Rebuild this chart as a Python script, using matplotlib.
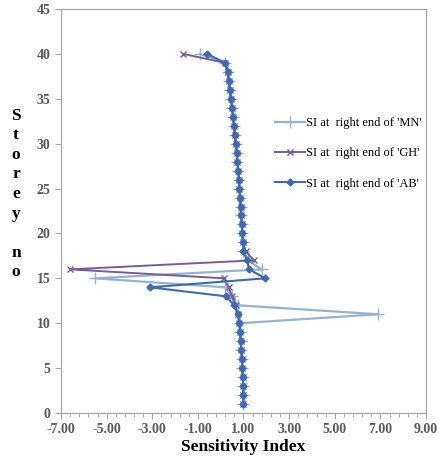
import matplotlib.pyplot as plt
import numpy as np

plt.rcParams['font.family'] = ['Liberation Serif', 'DejaVu Serif']

storey = list(range(1, 41))

si_mn = [1.00, 1.00, 0.98, 0.97, 0.95, 0.93, 0.90, 0.88, 0.86, 0.85,
         6.90, 0.75, 0.50, 0.20, -5.50, 1.80, 1.20, 1.00, 0.98, 0.95,
         0.92, 0.90, 0.87, 0.85, 0.82, 0.80, 0.77, 0.73, 0.70, 0.66,
         0.62, 0.58, 0.54, 0.50, 0.45, 0.40, 0.35, 0.30, 0.20, -0.90]
si_gh = [1.00, 1.00, 0.98, 0.97, 0.95, 0.93, 0.90, 0.88, 0.85, 0.82,
         0.75, 0.65, 0.50, 0.35, 0.15, -6.60, 1.45, 1.10, 0.98, 0.95,
         0.92, 0.90, 0.87, 0.85, 0.82, 0.80, 0.77, 0.73, 0.70, 0.66,
         0.62, 0.58, 0.54, 0.50, 0.45, 0.40, 0.35, 0.30, 0.20, -1.65]
si_ab = [1.00, 1.00, 0.98, 0.97, 0.95, 0.93, 0.90, 0.88, 0.85, 0.82,
         0.75, 0.60, 0.22, -3.10, 1.95, 1.25, 1.15, 1.00, 0.98, 0.95,
         0.92, 0.90, 0.87, 0.85, 0.82, 0.80, 0.77, 0.73, 0.70, 0.66,
         0.62, 0.58, 0.54, 0.50, 0.45, 0.40, 0.35, 0.30, 0.20, -0.60]

labels = ["SI at  right end of 'MN'", "SI at  right end of 'GH'", "SI at  right end of 'AB'"]
x_ticks = [-7, -5, -3, -1, 1, 3, 5, 7, 9]
y_ticks = [0, 5, 10, 15, 20, 25, 30, 35, 40, 45]

fig = plt.figure(figsize=(4.45, 4.65), dpi=100)
ax = fig.add_axes([61 / 445, 1 - 413 / 465, 365 / 445, 404 / 465])

ax.plot(si_mn, storey, color='#95b3d7', lw=1.6, marker='+', ms=8, mew=1.0, label=labels[0])
ax.plot(si_gh, storey, color='#7a5b9c', lw=1.4, marker='x', ms=4.5, mew=1.0, label=labels[1])
ax.plot(si_ab, storey, color='#3d6bb3', lw=1.5, marker='D', ms=3.5, label=labels[2])

ax.set_xlim(-7, 9)
ax.set_ylim(0, 45)
ax.set_xticks(x_ticks)
ax.set_xticklabels([f'{v:.2f}' for v in x_ticks])
ax.set_xticks(np.arange(-7, 9.01, 0.4), minor=True)
ax.set_yticks(y_ticks)

for s in ax.spines.values():
    s.set_color('#a6a6a6')
    s.set_linewidth(0.9)
ax.tick_params(axis='both', which='both', colors='#a6a6a6', direction='out')
ax.tick_params(axis='both', which='major', length=4, labelsize=10, labelcolor='#595959')
ax.tick_params(axis='x', which='minor', length=3)
for t in ax.get_xticklabels() + ax.get_yticklabels():
    t.set_fontweight('bold')

ax.set_xlabel('Sensitivity Index', fontsize=12.5, fontweight='bold', labelpad=2)
fig.text(16 / 445, 1 - 194 / 465, 'S\nt\no\nr\ne\ny\n\nn\no', ha='center', va='center',
         fontsize=12.5, fontweight='bold', linespacing=1.3)

fig.legend(loc='upper left', bbox_to_anchor=(264 / 445, 1 - 106 / 465), frameon=False,
           fontsize=9, handlelength=2.4, handletextpad=0.1, labelspacing=1.45)

fig.savefig('out.png', dpi=100)
